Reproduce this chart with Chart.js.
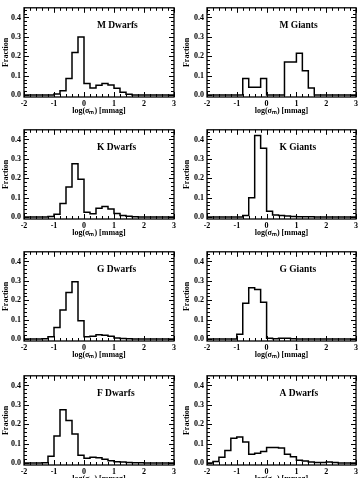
<!DOCTYPE html>
<html>
<head>
<meta charset="utf-8">
<script src="https://cdn.jsdelivr.net/npm/chart.js@4/dist/chart.umd.min.js"></script>
<style>
  body { margin: 0; background: #fff; }
  #wrap { position: relative; width: 363px; height: 478px; overflow: hidden; background: #fff; }
  .panel { position: absolute; }
</style>
</head>
<body>
<div id="wrap"></div>
<script>
// lower edges of the 0.2-wide bins in log(sigma_m)
const binLo = [-2, -1.8, -1.6, -1.4, -1.2, -1, -0.8, -0.6, -0.4, -0.2, 0, 0.2, 0.4, 0.6, 0.8, 1, 1.2, 1.4, 1.6, 1.8, 2, 2.2, 2.4, 2.6, 2.8];
const binHi = 3;

const xTicks = [-2, -1, 0, 1, 2, 3];
const xMinorTicks = [-2, -1.8, -1.6, -1.4, -1.2, -1, -0.8, -0.6, -0.4, -0.2, 0, 0.2, 0.4, 0.6, 0.8, 1, 1.2, 1.4, 1.6, 1.8, 2, 2.2, 2.4, 2.6, 2.8, 3];
const yTicks = [0, 0.1, 0.2, 0.3, 0.4];
const yMinorTicks = [0, 0.02, 0.04, 0.06, 0.08, 0.1, 0.12, 0.14, 0.16, 0.18, 0.2, 0.22, 0.24, 0.26, 0.28, 0.3, 0.32, 0.34, 0.36, 0.38, 0.4, 0.42, 0.44];

const mDwarfs  = [0, 0, 0, 0, 0, 0.005, 0.022, 0.085, 0.22, 0.30, 0.06, 0.037, 0.05, 0.06, 0.052, 0.035, 0.015, 0.004, 0, 0, 0, 0, 0, 0, 0];
const mGiants  = [0, 0, 0, 0, 0, 0, 0.085, 0.04, 0.04, 0.085, 0, 0, 0, 0.17, 0.17, 0.215, 0.125, 0.037, 0, 0, 0, 0, 0, 0, 0];
const kDwarfs  = [0, 0, 0, 0, 0.003, 0.015, 0.07, 0.155, 0.275, 0.195, 0.025, 0.017, 0.045, 0.055, 0.042, 0.018, 0.008, 0.004, 0.002, 0, 0, 0, 0, 0, 0];
const kGiants  = [0, 0, 0, 0, 0, 0, 0.008, 0.10, 0.42, 0.355, 0.03, 0.01, 0.008, 0.005, 0.003, 0.002, 0.002, 0.001, 0, 0, 0, 0, 0, 0, 0];
const gDwarfs  = [0, 0, 0, 0.002, 0.012, 0.06, 0.15, 0.24, 0.295, 0.095, 0.012, 0.015, 0.022, 0.02, 0.015, 0.006, 0.003, 0.002, 0, 0, 0, 0, 0, 0, 0];
const gGiants  = [0, 0, 0, 0, 0, 0.025, 0.185, 0.265, 0.255, 0.19, 0.004, 0.002, 0.004, 0.004, 0.002, 0, 0, 0, 0, 0, 0, 0, 0, 0, 0];
const fDwarfs  = [0, 0, 0, 0.002, 0.035, 0.14, 0.275, 0.22, 0.15, 0.04, 0.025, 0.03, 0.027, 0.02, 0.012, 0.007, 0.005, 0.003, 0.002, 0.002, 0, 0, 0, 0, 0];
const aDwarfs  = [0, 0.008, 0.03, 0.065, 0.128, 0.135, 0.108, 0.045, 0.05, 0.06, 0.08, 0.08, 0.078, 0.045, 0.032, 0.015, 0.01, 0.005, 0.003, 0.003, 0.006, 0.003, 0, 0, 0];

const panels = [
  { name: 'M Dwarfs', data: mDwarfs, col: 0, row: 0 },
  { name: 'M Giants', data: mGiants, col: 1, row: 0 },
  { name: 'K Dwarfs', data: kDwarfs, col: 0, row: 1 },
  { name: 'K Giants', data: kGiants, col: 1, row: 1 },
  { name: 'G Dwarfs', data: gDwarfs, col: 0, row: 2 },
  { name: 'G Giants', data: gGiants, col: 1, row: 2 },
  { name: 'F Dwarfs', data: fDwarfs, col: 0, row: 3 },
  { name: 'A Dwarfs', data: aDwarfs, col: 1, row: 3 }
];

const rowTop = [0, 122, 244, 368];
const colLeft = [0, 181];
const axisW = [24, 26];
const padRight = [8, 7];
const W = 182, H = 122;

const FONT = 'Liberation Serif';
const tickFont = { family: FONT, size: 8, weight: 'bold' };

// box, inward ticks on all four sides, panel name
const framePlugin = {
  id: 'frame',
  afterDatasetsDraw(chart, args, opts) {
    const { ctx, chartArea: a, scales: { x, y } } = chart;
    ctx.save();
    ctx.strokeStyle = '#000';
    ctx.lineWidth = 1.3;
    ctx.strokeRect(a.left, a.top, a.right - a.left, a.bottom - a.top);
    ctx.lineWidth = 1;
    ctx.beginPath();
    xMinorTicks.forEach((v) => {
      const px = Math.round(x.getPixelForValue(v)) + 0.5;
      const len = xTicks.includes(v) ? 5 : 3;
      ctx.moveTo(px, a.bottom); ctx.lineTo(px, a.bottom - len);
      ctx.moveTo(px, a.top); ctx.lineTo(px, a.top + len);
    });
    yMinorTicks.forEach((v) => {
      const py = Math.round(y.getPixelForValue(v)) + 0.5;
      const len = yTicks.some((t) => Math.abs(t - v) < 1e-9) ? 5 : 3;
      ctx.moveTo(a.left, py); ctx.lineTo(a.left + len, py);
      ctx.moveTo(a.right, py); ctx.lineTo(a.right - len, py);
    });
    ctx.stroke();
    ctx.fillStyle = '#000';
    ctx.font = `bold 9.5px "${FONT}"`;
    ctx.textBaseline = 'middle';
    ctx.fillText(opts.name, x.getPixelForValue(0.43), y.getPixelForValue(0.36));
    ctx.restore();
  }
};

const wrap = document.getElementById('wrap');
panels.forEach((p) => {
  const div = document.createElement('div');
  div.className = 'panel';
  div.style.left = `${colLeft[p.col]}px`;
  div.style.top = `${rowTop[p.row]}px`;
  const cv = document.createElement('canvas');
  cv.width = W;
  cv.height = H;
  div.appendChild(cv);
  wrap.appendChild(div);

  const pts = binLo.map((x, i) => ({ x, y: p.data[i] }));
  pts.push({ x: binHi, y: p.data[p.data.length - 1] });

  new Chart(cv, {
    type: 'line',
    data: {
      datasets: [{ data: pts, borderColor: '#000', borderWidth: 1.5, stepped: 'before', pointRadius: 0, fill: false }]
    },
    options: {
      responsive: false,
      animation: false,
      devicePixelRatio: 1,
      layout: { padding: { left: 0, right: padRight[p.col], top: 5, bottom: 0 } },
      plugins: { legend: { display: false }, tooltip: { enabled: false }, frame: { name: p.name } },
      scales: {
        x: {
          type: 'linear',
          min: -2,
          max: 3,
          afterBuildTicks: (s) => { s.ticks = xTicks.map((v) => ({ value: v })); },
          afterFit: (s) => { s.height = 25; },
          grid: { display: false, drawTicks: false },
          border: { display: false },
          ticks: { font: tickFont, color: '#000', padding: 2, maxRotation: 0, autoSkip: false, callback: (v) => String(v) },
          title: { display: true, text: 'log(σₘ) [mmag]', font: tickFont, color: '#000', padding: { top: 0, bottom: 6 } }
        },
        y: {
          type: 'linear',
          min: -0.01,
          max: 0.45,
          afterBuildTicks: (s) => { s.ticks = yTicks.map((v) => ({ value: v })); },
          afterFit: (s) => { s.width = axisW[p.col]; },
          grid: { display: false, drawTicks: false },
          border: { display: false },
          ticks: { font: tickFont, color: '#000', padding: 3, autoSkip: false, callback: (v) => v.toFixed(1) },
          title: { display: true, text: 'Fraction', font: tickFont, color: '#000', padding: { top: 1, bottom: 0 } }
        }
      }
    },
    plugins: [framePlugin]
  });
});
</script>
</body>
</html>
